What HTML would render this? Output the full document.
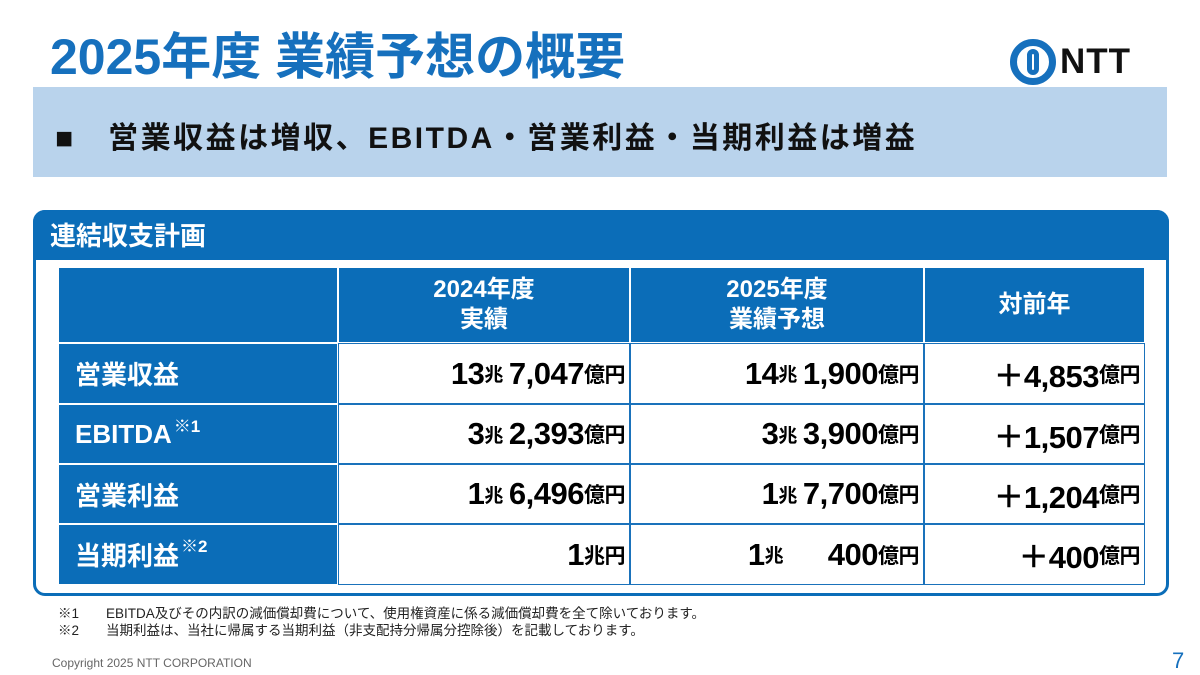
<!DOCTYPE html>
<html><head><meta charset="utf-8"><style>
*{margin:0;padding:0;box-sizing:border-box}
body{width:1200px;height:675px;background:#fff;position:relative;overflow:hidden;font-family:"Liberation Sans","Noto Sans CJK JP",sans-serif}
.abs{position:absolute}
.title{left:50px;top:28px;font-size:50px;font-weight:bold;color:#1670bd;line-height:58px;white-space:nowrap;letter-spacing:0px}
.sub{left:33px;top:87px;width:1134px;height:90px;background:#b9d3ec}
.sub span{position:absolute;left:22px;top:26px;font-size:30px;font-weight:bold;color:#111;white-space:nowrap;letter-spacing:2.5px}
.box{left:33px;top:210px;width:1136px;height:386px;border:3px solid #0b6db8;border-radius:12px;background:#fff}
.boxhead{left:33px;top:210px;width:1136px;height:50px;background:#0b6db8;border-radius:12px 12px 0 0}
.boxhead span{position:absolute;left:17px;top:6px;font-size:26px;font-weight:bold;color:#fff}
.c{position:absolute;border:1.5px solid #1a72bb;display:flex;align-items:center;font-weight:bold}
.lab{background:#0b6db8;color:#fff;font-size:26px;padding-left:16px;border-color:#fff}
.hd{background:#0b6db8;color:#fff;font-size:24px;justify-content:center;text-align:center;line-height:30px;border-color:#fff}
.v{background:#fff;color:#000;font-size:31px;justify-content:flex-end;padding-right:4px;white-space:nowrap;letter-spacing:-0.5px}
.s{font-size:19px;margin-right:6px}.y{font-size:21px}
.sp{font-size:17px;position:relative;top:-10px;margin-left:2px}
.fn{left:58px;font-size:13.5px;color:#222;white-space:nowrap}
</style></head><body>
<div class="abs title">2025年度 業績予想の概要</div>
<div class="abs" style="left:1010px;top:39px;width:46px;height:46px;border-radius:50%;border:7px solid #1670bd"><div style="position:absolute;left:10px;top:3px;width:12px;height:26px;border:5px solid #1670bd;border-radius:8px"></div></div>
<div class="abs" style="left:1060px;top:42px;font-size:35px;font-weight:bold;color:#111;letter-spacing:1px">NTT</div>
<div class="abs sub"><span>■　営業収益は増収、EBITDA・営業利益・当期利益は増益</span></div>
<div class="abs box"></div>
<div class="abs boxhead"><span>連結収支計画</span></div>
<div id="tbl"></div>
<div class="abs fn" style="top:602px">※1　　EBITDA及びその内訳の減価償却費について、使用権資産に係る減価償却費を全て除いております。</div>
<div class="abs fn" style="top:619px">※2　　当期利益は、当社に帰属する当期利益（非支配持分帰属分控除後）を記載しております。</div>
<div class="abs" style="left:52px;top:656px;font-size:12px;color:#666">Copyright 2025 NTT CORPORATION</div>
<div class="abs" style="left:1172px;top:648px;font-size:22px;color:#1670bd">7</div>
<script>
const xs=[58,338,630,924,1145];
const ys=[267,343,404,464,524,585];
const headers=['','2024年度<br>実績','2025年度<br>業績予想','対前年'];
const labels=['営業収益','EBITDA<span class="sp">※1</span>','営業利益','当期利益<span class="sp">※2</span>'];
const actual=['13<span class="s">兆</span>7,047<span class="y">億円</span>','3<span class="s">兆</span>2,393<span class="y">億円</span>','1<span class="s">兆</span>6,496<span class="y">億円</span>','1<span class="y">兆円</span>'];
const forecast=['14<span class="s">兆</span>1,900<span class="y">億円</span>','3<span class="s">兆</span>3,900<span class="y">億円</span>','1<span class="s">兆</span>7,700<span class="y">億円</span>','1<span class="s">兆</span>&emsp;&nbsp;400<span class="y">億円</span>'];
const diff=['＋4,853<span class="y">億円</span>','＋1,507<span class="y">億円</span>','＋1,204<span class="y">億円</span>','＋400<span class="y">億円</span>'];
const t=document.getElementById('tbl');
function cell(r,c,cls,html,name){
 const d=document.createElement('div');
 d.className='c '+cls;
 d.style.left=xs[c]+'px';d.style.top=ys[r]+'px';
 d.style.width=(xs[c+1]-xs[c])+'px';d.style.height=(ys[r+1]-ys[r])+'px';
 d.innerHTML=html;
 
 
 t.appendChild(d);
}
headers.forEach((h,i)=>cell(0,i,'hd',h,'header-cell-'+i));
labels.forEach((l,i)=>{
 cell(i+1,0,'lab',l,'row-label-'+i);
 cell(i+1,1,'v',actual[i],'actual-2024-'+i);
 cell(i+1,2,'v',forecast[i],'forecast-2025-'+i);
 cell(i+1,3,'v',diff[i],'yoy-change-'+i);
});
</script>
</body></html>
